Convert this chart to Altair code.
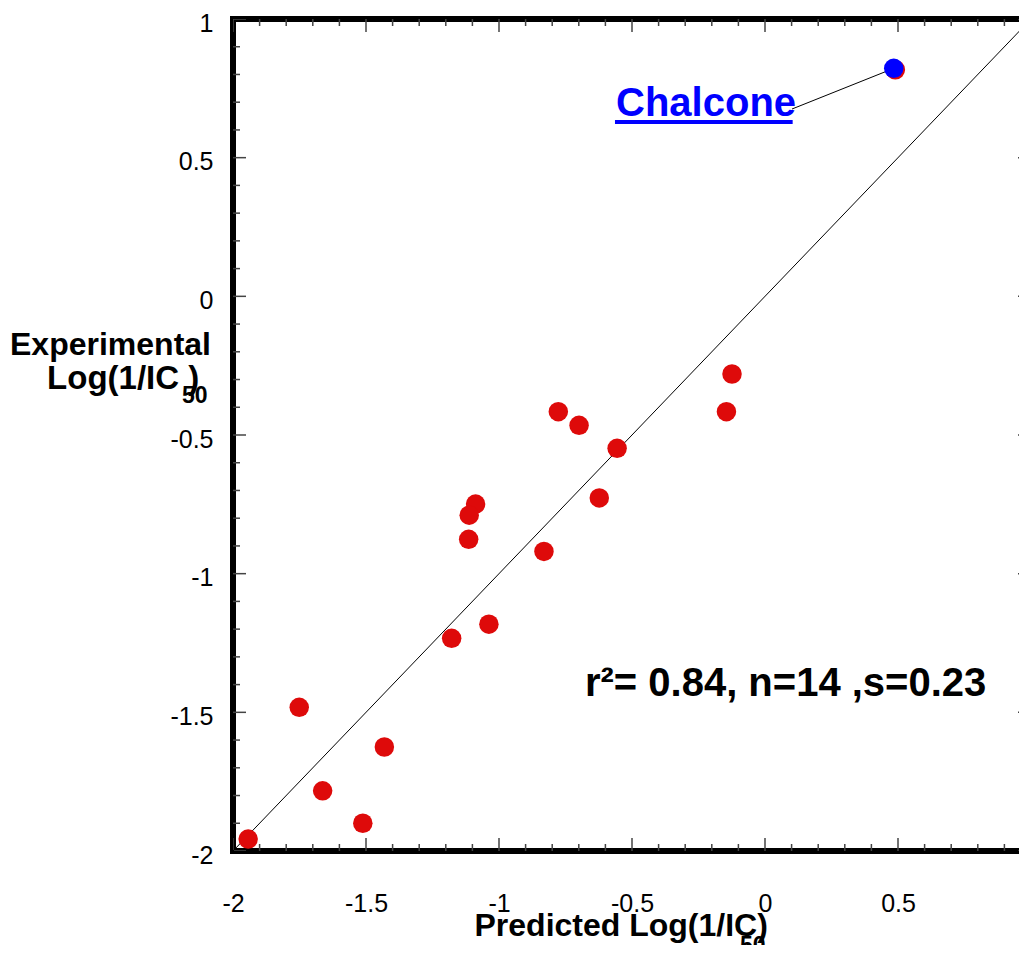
import altair as alt
import pandas as pd

FONT = "Liberation Sans, Arial, sans-serif"

# Observed data (red points)
pred = [-1.943, -1.751, -1.663, -1.512, -1.431, -1.178, -1.038, -0.777, -0.699,
        -0.556, -0.623, -1.088, -1.112, -1.114, -0.831, -0.124, -0.145, 0.490]
expt = [-1.957, -1.482, -1.783, -1.900, -1.625, -1.233, -1.182, -0.416, -0.465,
        -0.548, -0.727, -0.749, -0.789, -0.876, -0.920, -0.280, -0.416, 0.817]

# Highlighted compound
hi_pred = [0.484]
hi_expt = [0.822]
hi_name = ["Chalcone"]

# Identity line
diag_x = [-2, 1]
diag_y = [-2, 1]

# Axis tick values / labels
major_vals = [-2, -1.5, -1, -0.5, 0, 0.5, 1]
minor_vals = [round(-2 + 0.1 * i, 1) for i in range(31)]

# Annotations (data coordinates)
stats_text = ["r\u00b2= 0.84, n=14 ,s=0.23"]
stats_pos = [(-0.677, -1.441)]
label_pos = [(-0.560, 0.650)]
conn_end = [(0.1015, 0.6754)]
underline = [(-0.564, 0.104, 0.6286)]
ytitle2 = ["Log(1/IC  )"]
ytitle2_pos = [(-2.699, -0.334)]
sub_text = ["50", "50"]
sub_pos = [(-2.192, -0.385), (-0.094, -2.368)]

DOM = [-2, 1]

pts = pd.DataFrame({"x": pred, "y": expt})
hi = pd.DataFrame({"x": hi_pred, "y": hi_expt, "name": hi_name})
diag = pd.DataFrame({"x": diag_x, "y": diag_y})
conn = pd.DataFrame({"x": [hi_pred[0], conn_end[0][0]], "y": [hi_expt[0], conn_end[0][1]]})
lab = pd.DataFrame({"x": [label_pos[0][0]], "y": [label_pos[0][1]], "t": hi_name})
ul = pd.DataFrame({"x": [underline[0][0]], "x2": [underline[0][1]], "y": [underline[0][2]]})
st = pd.DataFrame({"x": [stats_pos[0][0]], "y": [stats_pos[0][1]], "t": stats_text})
yt2 = pd.DataFrame({"x": [ytitle2_pos[0][0]], "y": [ytitle2_pos[0][1]], "t": ytitle2})
sub = pd.DataFrame({"x": [p[0] for p in sub_pos], "y": [p[1] for p in sub_pos], "t": sub_text})

rows = []
for v in minor_vals:
    kind = "major" if any(abs(v - m) < 1e-9 for m in major_vals) else "minor"
    for edge in DOM:
        rows.append({"x": v, "y": edge, "kind": kind, "o": "v"})
        rows.append({"x": edge, "y": v, "kind": kind, "o": "h"})
ticks = pd.DataFrame(rows)

label_expr = "datum.value < 0 ? '-' + format(-datum.value, '~g') : format(datum.value, '~g')"

x_axis = alt.Axis(values=major_vals, labelExpr=label_expr, ticks=False, tickSize=0,
                  domain=False, grid=False, labelPadding=40, labelFontSize=25,
                  labelFont=FONT, labelColor="black", labelFlush=False, labelOverlap=False,
                  title="Predicted Log(1/IC)", titleFont=FONT, titleFontSize=32,
                  titleFontWeight="bold", titleColor="black", titleAlign="left",
                  titleBaseline="alphabetic", titleX=241, titleY=84, titleAngle=0)
y_axis = alt.Axis(values=major_vals, labelExpr=label_expr, ticks=False, tickSize=0,
                  domain=False, grid=False, labelPadding=20, labelFontSize=25,
                  labelFont=FONT, labelColor="black", labelFlush=False, labelOverlap=False,
                  labelOffset=4,
                  title="Experimental", titleFont=FONT,
                  titleFontSize=32, titleFontWeight="bold", titleColor="black",
                  titleAngle=0, titleAlign="center", titleBaseline="alphabetic",
                  titleX=-123, titleY=335)

xs = alt.Scale(domain=DOM, nice=False, zero=False)
ys = alt.Scale(domain=DOM, nice=False, zero=False)

X = alt.X("x:Q", scale=xs, axis=x_axis)
Y = alt.Y("y:Q", scale=ys, axis=y_axis)

base_pts = alt.Chart(pts).mark_circle(size=380, opacity=1, color="#de0a0a").encode(x=X, y=Y)

diag_line = alt.Chart(diag).mark_line(color="black", strokeWidth=1, clip=True).encode(x=X, y=Y)

conn_line = alt.Chart(conn).mark_line(color="black", strokeWidth=1).encode(x=X, y=Y)

hi_pt = alt.Chart(hi).mark_circle(size=380, opacity=1, color="#0000ff").encode(x=X, y=Y)

lab_txt = alt.Chart(lab).mark_text(align="left", baseline="alphabetic", fontSize=40,
                                   fontWeight="bold", font=FONT, color="#0000ff").encode(
    x=X, y=Y, text="t:N")
ul_rule = alt.Chart(ul).mark_rule(color="#0000ff", strokeWidth=4).encode(x=X, x2="x2:Q", y=Y)

st_txt = alt.Chart(st).mark_text(align="left", baseline="alphabetic", fontSize=40,
                                 fontWeight="bold", font=FONT, color="black").encode(
    x=X, y=Y, text="t:N")

yt2_txt = alt.Chart(yt2).mark_text(align="left", baseline="alphabetic", fontSize=33,
                                   fontWeight="bold", font=FONT, color="black").encode(
    x=X, y=Y, text="t:N")

sub_txt = alt.Chart(sub).mark_text(align="left", baseline="alphabetic", fontSize=23,
                                   fontWeight="bold", font=FONT, color="black").encode(
    x=X, y=Y, text="t:N")

def tick_layer(o, kind, size):
    orient = "vertical" if o == "v" else "horizontal"
    return alt.Chart(ticks).transform_filter(
        (alt.datum.o == o) & (alt.datum.kind == kind)
    ).mark_tick(orient=orient, size=size, thickness=1.5, color="#444444", clip=True,
                opacity=1).encode(x=X, y=Y)

tick_layers = [tick_layer("v", "major", 26), tick_layer("v", "minor", 14),
               tick_layer("h", "major", 26), tick_layer("h", "minor", 14)]

chart = alt.layer(*tick_layers, diag_line, base_pts, conn_line, hi_pt, ul_rule, lab_txt,
                  st_txt, yt2_txt, sub_txt).properties(
    width=798, height=832,
    background="white",
    autosize=alt.AutoSizeParams(type="none"),
    padding={"left": 225, "top": 11, "right": -12, "bottom": 94},
).configure_view(stroke="black", strokeWidth=6)

chart.save("out.html", embed_options={"renderer": "svg", "actions": False})
